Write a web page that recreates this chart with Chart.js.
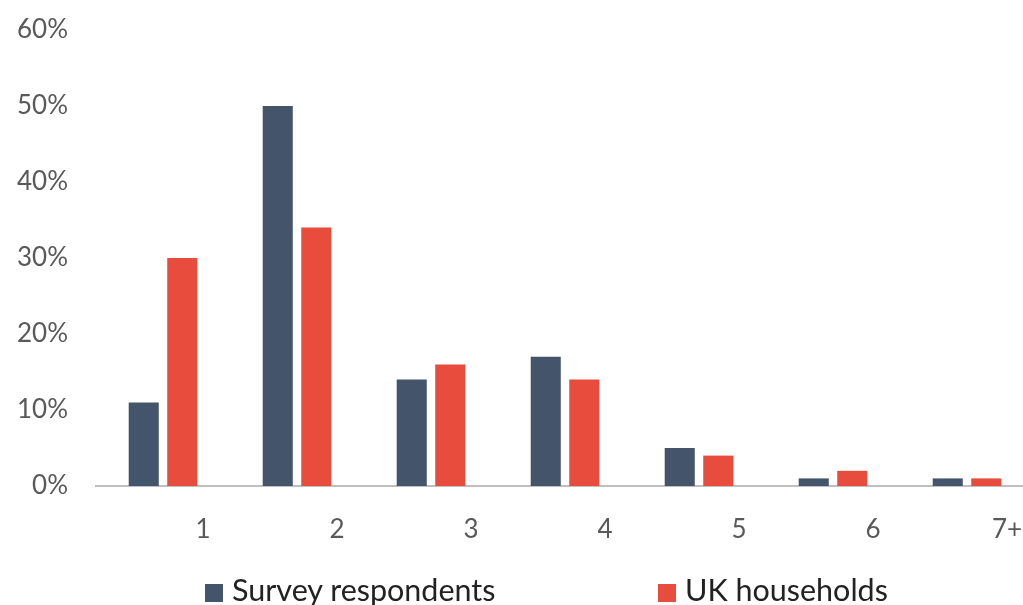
<!DOCTYPE html>
<html>
<head>
<meta charset="utf-8">
<script src="https://cdn.jsdelivr.net/npm/chart.js@4"></script>
<style>
    html, body { margin: 0; padding: 0; background: #fff; overflow: hidden; }
    #wrap { position: relative; width: 1023px; height: 605px; overflow: hidden; }
    #householdChart { position: absolute; left: 0; top: 0; }
    .legend-item { position: absolute; top: 571px; font-family: Lato, sans-serif; font-size: 30.5px; color: #222; white-space: nowrap; }
    .legend-box { display: inline-block; width: 18px; height: 18px; margin-right: 9px; vertical-align: -1px; }
</style>
</head>
<body>
<div id="wrap">
    <canvas id="householdChart" width="1040" height="605"></canvas>
    <div id="legend"></div>
</div>
<script>
// Household size categories
const categories = ['1', '2', '3', '4', '5', '6', '7+'];
// Share of each group (percent)
const surveyValues = [11, 50, 14, 17, 5, 1, 1];
const ukValues = [30, 34, 16, 14, 4, 2, 1];
// Y axis ticks
const yTicks = [0, 10, 20, 30, 40, 50, 60];

const seriesNames = ['Survey respondents', 'UK households'];
const seriesColours = ['#44546A', '#E84C3D'];

const tickFont = { family: 'Lato', size: 26 };

// Fix axis sizes and drop the automatic label overhang padding
function fixAxis(axis, size) {
    if (axis.isHorizontal()) {
        axis.height = size;
    } else {
        axis.width = size;
    }
    axis.paddingLeft = 0;
    axis.paddingRight = 0;
    axis.paddingTop = 0;
    axis.paddingBottom = 0;
}

const chartConfig = {
    type: 'bar',
    data: {
        labels: categories,
        datasets: [{
            label: seriesNames[0],
            data: surveyValues,
            backgroundColor: seriesColours[0],
            categoryPercentage: 0.575,
            barPercentage: 0.78
        }, {
            label: seriesNames[1],
            data: ukValues,
            backgroundColor: seriesColours[1],
            categoryPercentage: 0.575,
            barPercentage: 0.78
        }]
    },
    options: {
        responsive: false,
        animation: false,
        layout: {
            padding: { left: 14, top: 30, right: 6, bottom: 60 }
        },
        scales: {
            x: {
                afterFit: (axis) => fixAxis(axis, 59),
                grid: { display: false, drawTicks: false },
                border: { display: true, color: '#BFBFBF', width: 2 },
                ticks: {
                    color: '#595959',
                    font: tickFont,
                    padding: 28,
                    labelOffset: 40,
                    maxRotation: 0
                }
            },
            y: {
                min: 0,
                max: 60,
                afterBuildTicks: (axis) => {
                    axis.ticks = yTicks.map(v => ({ value: v }));
                },
                afterFit: (axis) => fixAxis(axis, 82),
                grid: { display: false, drawTicks: false },
                border: { display: false },
                ticks: {
                    color: '#595959',
                    font: tickFont,
                    padding: 28,
                    callback: (v) => v + '%'
                }
            }
        },
        plugins: {
            legend: { display: false },
            tooltip: { enabled: false }
        }
    }
};

const householdChart = new Chart('householdChart', chartConfig);

// Legend built as HTML underneath the chart
const legendLeft = [205, 658];
const legendDiv = document.getElementById('legend');
seriesNames.forEach((name, i) => {
    const item = document.createElement('div');
    item.className = 'legend-item';
    item.style.left = legendLeft[i] + 'px';
    item.innerHTML = '<span class="legend-box" style="background:' + seriesColours[i] + '"></span>' + name;
    legendDiv.appendChild(item);
});
</script>
</body>
</html>
